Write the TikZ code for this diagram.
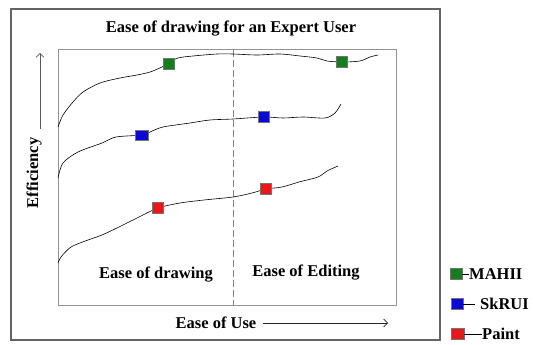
\documentclass[tikz,border=0pt]{standalone}
\usepackage{fontspec}
\setmainfont{Liberation Serif}
\usepackage{tikz}
\usetikzlibrary{positioning,arrows.meta}
\definecolor{mahii}{RGB}{20,125,30}
\definecolor{skrui}{RGB}{10,10,210}
\definecolor{paint}{RGB}{230,25,25}
\definecolor{frame}{RGB}{100,100,100}

\begin{document}
\begin{tikzpicture}[x=1pt,y=1pt]
				\tikzstyle{every node}+=[inner sep=0pt, font=\fontsize{16.5}{20}\selectfont\bfseries]
				\tikzstyle{marker}=[draw=black!55, line width=0.4pt, minimum width=11pt, minimum height=11pt]
				\tikzstyle{curve}=[black, line width=0.6pt]
				\tikzstyle{axis}=[-{Straight Barb[length=4pt,width=8pt]}, line width=0.6pt]
				\useasboundingbox (0,0) rectangle (533,-345);
				\fill [white] (0,0) rectangle (533,-345);
				\draw [frame, line width=1.2pt] (11,-9) rectangle (440,-340);
				\draw [frame!70, line width=1pt] (58,-50) rectangle (396,-305);
				\draw [frame!80, dash pattern=on 7pt off 3pt] (233,-50) -- (233,-305);
				\node (title) at (231,-29) {Ease of drawing for an Expert User};
				\node (drawing) at (156,-275) {Ease of drawing};
				\node (editing) at (306,-273) {Ease of Editing};
				\node (use) at (216,-323) {Ease of Use};
				\coordinate (useTip) at (388,-323);
				\draw [axis, black!85, shorten <=6pt] (use.east) -- (useTip);
				\node [rotate=90] (eff) at (34,-173) {Efficiency};
				\coordinate (effTip) at (40,-53);
				\draw [axis, black!65, shorten <=9pt] (eff.east -| effTip) -- (effTip);
				\draw [curve] plot [smooth, tension=0.5] coordinates {(58,-127) (63,-115) (73,-102) (83,-92) (100,-83) (120,-78) (137,-75) (150,-72) (162,-67) (169,-63) (178,-58) (193,-56) (217,-54) (233,-54) (257,-55) (280,-54) (300,-56) (317,-58) (327,-61) (342,-62) (360,-61) (370,-57) (378,-55)};
				\draw [curve] plot [smooth, tension=0.5] coordinates {(58,-178) (63,-163) (78,-152) (102,-143) (116,-137) (142,-135) (150,-132) (163,-127) (190,-123) (210,-120) (233,-119) (264,-117) (283,-118) (303,-117) (325,-118) (335,-113) (341,-104)};
				\draw [curve] plot [smooth, tension=0.5] coordinates {(58,-263) (61,-257) (71,-247) (88,-240) (102,-235) (119,-227) (139,-217) (158,-208) (180,-203) (204,-200) (233,-197) (252,-193) (266,-189) (282,-187) (299,-182) (318,-177) (327,-171) (338,-166)};
				\node [marker, fill=mahii] (g1) at (169,-64) {};
				\node [marker, fill=mahii] (g2) at (342,-62) {};
				\node [marker, fill=skrui, minimum width=13pt, minimum height=10pt] (b1) at (142,-135) {};
				\node [marker, fill=skrui] (b2) at (264,-117) {};
				\node [marker, fill=paint] (r1) at (158,-208) {};
				\node [marker, fill=paint] (r2) at (266,-189) {};
				\node [marker, fill=mahii, minimum width=12pt] (legG) at (456,-274) {};
				\node [anchor=west] (legGtext) at (469,-274) {MAHII};
				\draw [black] (legG.east) -- (legGtext.west);
				\node [marker, fill=skrui, minimum width=12pt] (legB) at (457,-304) {};
				\node [anchor=west] (legBtext) at (480,-304) {SkRUI};
				\draw [black, shorten >=5pt] (legB.east) -- (legBtext.west);
				\node [marker, fill=paint, minimum width=13pt] (legR) at (457.5,-334) {};
				\node [anchor=west] (legRtext) at (482,-334) {Paint};
				\draw [black] (legR.east) -- (legRtext.west);
\end{tikzpicture}
\end{document}
